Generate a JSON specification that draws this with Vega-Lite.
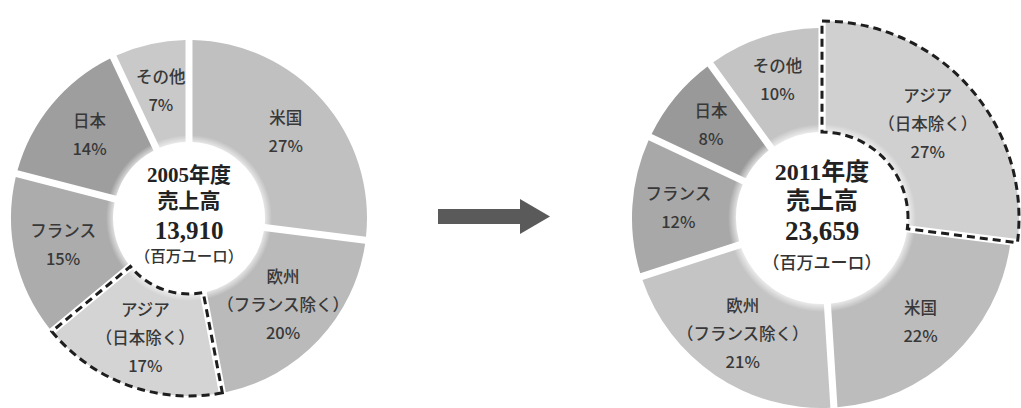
{
  "$schema": "https://vega.github.io/schema/vega-lite/v6.json",
  "background": "white",
  "padding": {"top": 15, "bottom": 0, "left": 0, "right": 0},
  "spacing": 0,
  "bounds": "flush",
  "config": {"view": {"stroke": null}, "font": "Noto Sans CJK JP"},
  "resolve": {"scale": {"color": "independent", "theta": "independent", "x": "independent", "y": "independent"}},
  "datasets": {
    "fy2005": [
      {"region": "米国", "share": 27},
      {"region": "欧州\n（フランス除く）", "share": 20},
      {"region": "アジア\n（日本除く）", "share": 17},
      {"region": "フランス", "share": 15},
      {"region": "日本", "share": 14},
      {"region": "その他", "share": 7}
    ],
    "fy2011": [
      {"region": "アジア\n（日本除く）", "share": 27},
      {"region": "米国", "share": 22},
      {"region": "欧州\n（フランス除く）", "share": 21},
      {"region": "フランス", "share": 12},
      {"region": "日本", "share": 8},
      {"region": "その他", "share": 10}
    ],
    "totals": [
      {"fy": "2005年度", "sales": 13910},
      {"fy": "2011年度", "sales": 23659}
    ],
    "arrowShaft": [{"x": 60, "x2": 144, "y": 181, "y2": 196}],
    "arrowHead": [{"x": 157, "y": 188.5}]
  },
  "hconcat": [
    {
      "width": 378,
      "height": 380,
      "layer": [
        {
          "data": {"name": "fy2005"},
          "transform": [
            {"window": [{"op": "row_number", "as": "k"}]},
            {"stack": "share", "groupby": [], "sort": [{"field": "k", "order": "ascending"}], "as": ["t0", "t1"]}
          ],
          "encoding": {
            "theta": {"field": "t0", "type": "quantitative", "scale": {"domain": [0, 100]}},
            "theta2": {"field": "t1"},
            "color": {
              "field": "region",
              "type": "nominal",
              "scale": {
                "domain": ["米国", "欧州\n（フランス除く）", "アジア\n（日本除く）", "フランス", "日本", "その他"],
                "range": ["#c0c0c0", "#bababa", "#d4d4d4", "#acacac", "#9e9e9e", "#c9c9c9"]
              },
              "legend": null
            }
          },
          "layer": [
            {
              "transform": [{"filter": "indexof(datum.region, 'アジア') !== 0"}],
              "mark": {"type": "arc", "innerRadius": 76, "outerRadius": 178, "padAngle": 0.036}
            },
            {
              "transform": [{"filter": "indexof(datum.region, 'アジア') === 0"}],
              "mark": {"type": "arc", "innerRadius": 76, "outerRadius": 178, "padAngle": 0.036}
            }
          ]
        },
        {
          "data": {"name": "totals"},
          "transform": [{"filter": "datum.fy === '2005年度'"}],
          "layer": [
            {
              "mark": {
                "type": "arc", "theta": 0, "theta2": 6.2832, "innerRadius": 0, "outerRadius": 83,
                "fill": {
                  "gradient": "radial", "x1": 0.5, "y1": 0.5, "r1": 0, "x2": 0.5, "y2": 0.5, "r2": 0.5,
                  "stops": [
                    {"offset": 0, "color": "#ffffff"},
                    {"offset": 0.86, "color": "#ffffff"},
                    {"offset": 1, "color": "rgba(255,255,255,0)"}
                  ]
                }
              },
              "encoding": {}
            },
            {
              "mark": {"type": "text", "dy": -42, "font": "'Liberation Serif', 'Noto Sans CJK JP'", "fontSize": 21, "fontWeight": "bold", "color": "#222222", "baseline": "middle"},
              "encoding": {"text": {"field": "fy"}}
            },
            {
              "mark": {"type": "text", "text": "売上高", "dy": -16, "font": "'Liberation Serif', 'Noto Sans CJK JP'", "fontSize": 21, "fontWeight": "bold", "color": "#222222", "baseline": "middle"},
              "encoding": {}
            },
            {
              "mark": {"type": "text", "dy": 13, "font": "'Liberation Serif', 'Noto Sans CJK JP'", "fontSize": 25, "fontWeight": "bold", "color": "#222222", "baseline": "middle"},
              "encoding": {"text": {"field": "sales", "type": "quantitative", "format": ","}}
            },
            {
              "mark": {"type": "text", "text": "（百万ユーロ）", "dy": 39, "fontSize": 15.5, "fontWeight": 500, "color": "#333333", "baseline": "middle"},
              "encoding": {}
            }
          ]
        },
        {
          "data": {"name": "fy2005"},
          "transform": [
            {"window": [{"op": "row_number", "as": "k"}]},
            {"stack": "share", "groupby": [], "sort": [{"field": "k", "order": "ascending"}], "as": ["t0", "t1"]},
            {"calculate": "(datum.t0 + datum.t1) / 2", "as": "tm"},
            {"calculate": "datum.region + '\\n' + datum.share + '%'", "as": "label"}
          ],
          "encoding": {
            "theta": {"field": "tm", "type": "quantitative", "scale": {"domain": [0, 100]}},
            "text": {"field": "label"}
          },
          "layer": [
            {
              "transform": [{"filter": "indexof(datum.region, 'アジア') === 0"}],
              "mark": {"type": "arc", "innerRadius": 76, "outerRadius": 178, "filled": false, "color": "#1e1e1e", "strokeWidth": 3, "strokeDash": [8, 5]},
              "encoding": {
                "theta": {"field": "t0", "type": "quantitative", "scale": {"domain": [0, 100]}},
                "theta2": {"field": "t1"},
                "text": null
              }
            },
            {
              "transform": [{"filter": "indexof(datum.region, '\\n') < 0"}],
              "mark": {"type": "text", "radius": 129, "dy": -14, "fontSize": 16.5, "fontWeight": 500, "lineHeight": 28, "lineBreak": "\n", "color": "#383838", "baseline": "middle"}
            },
            {
              "transform": [{"filter": "indexof(datum.region, '\\n') >= 0"}],
              "mark": {"type": "text", "radius": 129, "dy": -28, "fontSize": 16.5, "fontWeight": 500, "lineHeight": 28, "lineBreak": "\n", "color": "#383838", "baseline": "middle"}
            }
          ]
        }
      ]
    },
    {
      "width": 245,
      "height": 380,
      "layer": [
        {
          "data": {"name": "arrowShaft"},
          "mark": {"type": "rect", "color": "#5a5a5a"},
          "encoding": {
            "x": {"field": "x", "type": "quantitative", "scale": {"domain": [0, 245], "nice": false, "zero": false}, "axis": null},
            "x2": {"field": "x2"},
            "y": {"field": "y", "type": "quantitative", "scale": {"domain": [0, 380], "nice": false, "zero": false, "reverse": true}, "axis": null},
            "y2": {"field": "y2"}
          }
        },
        {
          "data": {"name": "arrowHead"},
          "mark": {"type": "point", "shape": "M-0.857,-1L0.857,0L-0.857,1Z", "size": 1225, "filled": true, "color": "#5a5a5a", "opacity": 1},
          "encoding": {
            "x": {"field": "x", "type": "quantitative", "scale": {"domain": [0, 245], "nice": false, "zero": false}, "axis": null},
            "y": {"field": "y", "type": "quantitative", "scale": {"domain": [0, 380], "nice": false, "zero": false, "reverse": true}, "axis": null}
          }
        }
      ]
    },
    {
      "width": 398,
      "height": 380,
      "layer": [
        {
          "data": {"name": "fy2011"},
          "transform": [
            {"window": [{"op": "row_number", "as": "k"}]},
            {"stack": "share", "groupby": [], "sort": [{"field": "k", "order": "ascending"}], "as": ["t0", "t1"]}
          ],
          "encoding": {
            "theta": {"field": "t0", "type": "quantitative", "scale": {"domain": [0, 100]}},
            "theta2": {"field": "t1"},
            "color": {
              "field": "region",
              "type": "nominal",
              "scale": {
                "domain": ["アジア\n（日本除く）", "米国", "欧州\n（フランス除く）", "フランス", "日本", "その他"],
                "range": ["#d0d0d0", "#bcbcbc", "#c4c4c4", "#a8a8a8", "#999999", "#c4c4c4"]
              },
              "legend": null
            }
          },
          "layer": [
            {
              "transform": [{"filter": "indexof(datum.region, 'アジア') !== 0"}],
              "mark": {"type": "arc", "innerRadius": 86, "outerRadius": 190, "padAngle": 0.034}
            },
            {
              "transform": [{"filter": "indexof(datum.region, 'アジア') === 0"}],
              "mark": {"type": "arc", "innerRadius": 86, "outerRadius": 197, "padAngle": 0.034}
            }
          ]
        },
        {
          "data": {"name": "totals"},
          "transform": [{"filter": "datum.fy === '2011年度'"}],
          "layer": [
            {
              "mark": {
                "type": "arc", "theta": 0, "theta2": 6.2832, "innerRadius": 0, "outerRadius": 94,
                "fill": {
                  "gradient": "radial", "x1": 0.5, "y1": 0.5, "r1": 0, "x2": 0.5, "y2": 0.5, "r2": 0.5,
                  "stops": [
                    {"offset": 0, "color": "#ffffff"},
                    {"offset": 0.87, "color": "#ffffff"},
                    {"offset": 1, "color": "rgba(255,255,255,0)"}
                  ]
                }
              },
              "encoding": {}
            },
            {
              "mark": {"type": "text", "dy": -45, "font": "'Liberation Serif', 'Noto Sans CJK JP'", "fontSize": 24, "fontWeight": "bold", "color": "#222222", "baseline": "middle"},
              "encoding": {"text": {"field": "fy"}}
            },
            {
              "mark": {"type": "text", "text": "売上高", "dy": -16, "font": "'Liberation Serif', 'Noto Sans CJK JP'", "fontSize": 24, "fontWeight": "bold", "color": "#222222", "baseline": "middle"},
              "encoding": {}
            },
            {
              "mark": {"type": "text", "dy": 14, "font": "'Liberation Serif', 'Noto Sans CJK JP'", "fontSize": 27, "fontWeight": "bold", "color": "#222222", "baseline": "middle"},
              "encoding": {"text": {"field": "sales", "type": "quantitative", "format": ","}}
            },
            {
              "mark": {"type": "text", "text": "（百万ユーロ）", "dy": 46, "fontSize": 17, "fontWeight": 500, "color": "#333333", "baseline": "middle"},
              "encoding": {}
            }
          ]
        },
        {
          "data": {"name": "fy2011"},
          "transform": [
            {"window": [{"op": "row_number", "as": "k"}]},
            {"stack": "share", "groupby": [], "sort": [{"field": "k", "order": "ascending"}], "as": ["t0", "t1"]},
            {"calculate": "(datum.t0 + datum.t1) / 2", "as": "tm"},
            {"calculate": "datum.region + '\\n' + datum.share + '%'", "as": "label"}
          ],
          "encoding": {
            "theta": {"field": "tm", "type": "quantitative", "scale": {"domain": [0, 100]}},
            "text": {"field": "label"}
          },
          "layer": [
            {
              "transform": [{"filter": "indexof(datum.region, 'アジア') === 0"}],
              "mark": {"type": "arc", "innerRadius": 86, "outerRadius": 197, "filled": false, "color": "#1e1e1e", "strokeWidth": 3, "strokeDash": [8, 5]},
              "encoding": {
                "theta": {"field": "t0", "type": "quantitative", "scale": {"domain": [0, 100]}},
                "theta2": {"field": "t1"},
                "text": null
              }
            },
            {
              "transform": [{"filter": "indexof(datum.region, '\\n') < 0"}],
              "mark": {"type": "text", "radius": 144, "dy": -14, "fontSize": 16.5, "fontWeight": 500, "lineHeight": 28, "lineBreak": "\n", "color": "#383838", "baseline": "middle"}
            },
            {
              "transform": [{"filter": "indexof(datum.region, '\\n') >= 0"}],
              "mark": {"type": "text", "radius": 141, "dy": -28, "fontSize": 16.5, "fontWeight": 500, "lineHeight": 28, "lineBreak": "\n", "color": "#383838", "baseline": "middle"}
            }
          ]
        }
      ]
    }
  ]
}
